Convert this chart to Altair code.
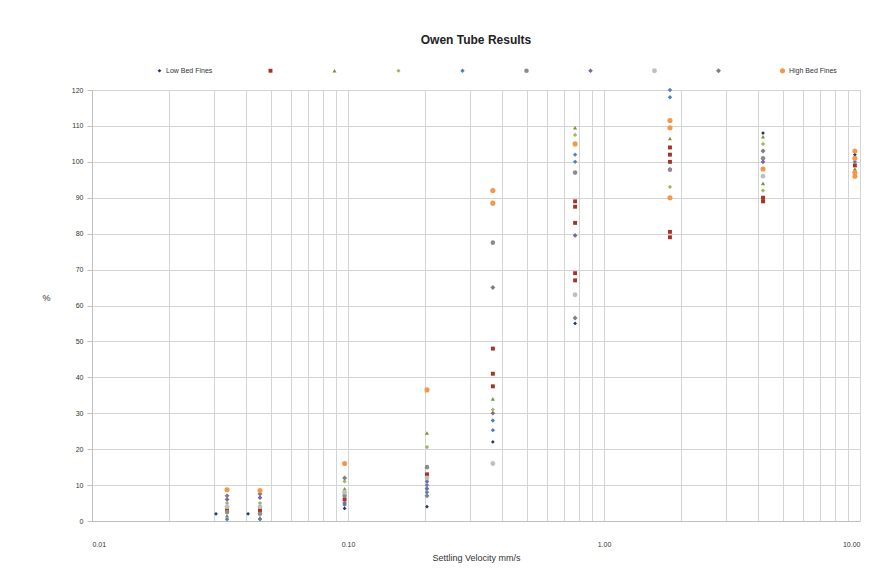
import altair as alt
import pandas as pd

SERIES = ["Low Bed Fines", "S2", "S3", "S4", "S5", "S6", "S7", "S8", "S9", "High Bed Fines"]
COLORS = ["#1F3864", "#A93226", "#77933C", "#9BBB59", "#4F81BD",
          "#8C8C8C", "#8064A2", "#BFBFBF", "#7F7F7F", "#F79646"]
SHAPES = ["diamond", "square", "triangle-up", "diamond", "diamond",
          "circle", "diamond", "circle", "diamond", "circle"]

X1 = [0.0305, 0.0407, 0.097, 0.2035, 0.368, 0.771, 1.81, 4.18, 9.55]
Y1 = [2, 2, 3.5, 4, 22, 55, 98, 108, 102]
X2 = [0.0337, 0.0453, 0.097, 0.2035, 0.368, 0.368, 0.368, 0.771, 0.771, 0.771, 0.771, 0.771,
      1.81, 1.81, 1.81, 1.81, 1.81, 4.18, 4.18, 9.55]
Y2 = [3, 3, 6, 13, 48, 41, 37.5, 89, 87.5, 83, 69, 67, 104, 102, 100, 80.5, 79, 90, 89, 99]
X3 = [0.0337, 0.0453, 0.097, 0.2035, 0.368, 0.771, 1.81, 4.18, 4.18, 9.55]
Y3 = [1.5, 1, 9, 24.5, 34, 109.5, 106.5, 107, 94, 98]
X4 = [0.0337, 0.0453, 0.097, 0.2035, 0.368, 0.771, 1.81, 4.18, 4.18]
Y4 = [5, 5, 11, 20.6, 31, 107.5, 93, 105, 92]
X5 = [0.0337, 0.0453, 0.097, 0.2035, 0.2035, 0.368, 0.368, 0.771, 0.771, 1.81, 1.81, 4.18, 9.55]
Y5 = [0.5, 0.5, 4.5, 8, 10, 28, 25.3, 102, 100, 120, 118, 98, 100]
X6 = [0.0337, 0.0453, 0.097, 0.2035, 0.368, 0.771, 1.81, 4.18]
Y6 = [2.5, 2, 7, 15, 77.5, 97, 97.8, 101]
X7 = [0.0337, 0.0453, 0.097, 0.2035, 0.2035, 0.368, 0.771, 4.18]
Y7 = [6, 6.5, 5, 11, 9, 30, 79.5, 100]
X8 = [0.0337, 0.0453, 0.097, 0.2035, 0.368, 0.771, 4.18]
Y8 = [4, 4, 8, 12, 16, 63, 96]
X9 = [0.0337, 0.0453, 0.097, 0.2035, 0.368, 0.771, 4.18]
Y9 = [7, 7.5, 12, 7, 65, 56.5, 103]
X10 = [0.0337, 0.0453, 0.097, 0.2035, 0.368, 0.368, 0.771, 1.81, 1.81, 1.81, 4.18,
       9.55, 9.55, 9.55, 9.55]
Y10 = [8.7, 8.5, 16, 36.5, 92, 88.5, 105, 111.5, 109.5, 90, 98, 103, 101, 97, 96]

XS = [X1, X2, X3, X4, X5, X6, X7, X8, X9, X10]
YS = [Y1, Y2, Y3, Y4, Y5, Y6, Y7, Y8, Y9, Y10]

rows = []
for name, xs, ys in zip(SERIES, XS, YS):
    for x, y in zip(xs, ys):
        rows.append({"series": name, "velocity": x, "pct": y})
df = pd.DataFrame(rows)

X_TICKS = [m * 10 ** e for e in (-2, -1, 0) for m in range(1, 10)] + [10]
Y_TICKS = list(range(0, 121, 10))

label_expr = ("abs(log(datum.value)/LN10 - round(log(datum.value)/LN10)) < 1e-6 ? "
              "format(datum.value, '.2f') : ''")

chart = alt.Chart(df).mark_point(filled=True, opacity=1).encode(
    x=alt.X("velocity:Q",
            scale=alt.Scale(type="log", domain=[0.01, 10], nice=False),
            axis=alt.Axis(values=X_TICKS, labelExpr=label_expr, title="Settling Velocity mm/s",
                          grid=True, gridColor="#d4d4d4", ticks=False, domainColor="#bfbfbf",
                          labelFontSize=7, labelColor="#333333", labelPadding=19,
                          titleFontSize=9, titleFontWeight="normal", titleColor="#333333",
                          titlePadding=6)),
    y=alt.Y("pct:Q",
            scale=alt.Scale(domain=[0, 120], nice=False),
            axis=alt.Axis(values=Y_TICKS, title="%", titleAngle=0, titleFontSize=9,
                          titleFontWeight="normal", titleColor="#333333",
                          titleX=-46, titleY=212, grid=True, gridColor="#d4d4d4",
                          tickColor="#bfbfbf", tickSize=5, domainColor="#bfbfbf",
                          labelFontSize=7, labelColor="#333333", labelPadding=4)),
    color=alt.Color("series:N", scale=alt.Scale(domain=SERIES, range=COLORS),
                    legend=alt.Legend(title=None, orient="none", direction="horizontal",
                                      columns=10, legendX=64, legendY=-23,
                                      labelExpr="datum.label == 'Low Bed Fines' || datum.label == 'High Bed Fines' ? datum.label : ''",
                                      labelFontSize=7, labelColor="#333333",
                                      columnPadding=54, symbolSize=18, labelOffset=3)),
    shape=alt.Shape("series:N", scale=alt.Scale(domain=SERIES, range=SHAPES), legend=None),
    size=alt.Size("series:N", scale=alt.Scale(domain=SERIES,
                                              range=[14, 26, 14, 14, 14, 11, 14, 11, 14, 13]),
                  legend=None),
).properties(
    width=768,
    height=431,
    title=alt.Title("Owen Tube Results", fontSize=12, fontWeight="bold", color="#222222",
                    anchor="middle", offset=20),
    padding={"left": 84, "top": 82, "right": 15, "bottom": 54},
    autosize=alt.AutoSizeParams(type="none"),
).configure_view(
    stroke="#bfbfbf"
).configure(
    font="Liberation Sans"
)

chart.save("out.html", embed_options={"renderer": "svg", "actions": False})
